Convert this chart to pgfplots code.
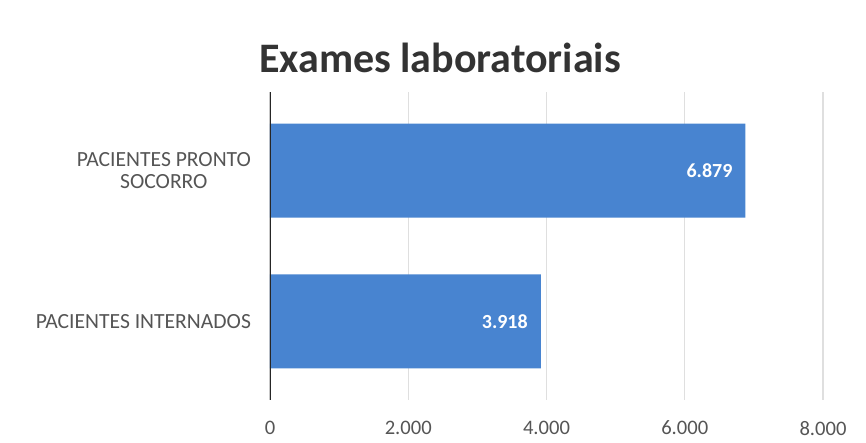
\documentclass[border=0pt]{standalone}
\usepackage{pgfplots}
\pgfplotsset{compat=1.18}
\usepackage{fontspec}
\setmainfont{Carlito}
\definecolor{barblue}{RGB}{72,132,208}
\definecolor{txtgray}{RGB}{85,85,85}
\begin{document}
\begin{tikzpicture}
\path[use as bounding box] (-135pt,-21.5pt) rectangle (298pt,200pt);
\begin{axis}[
    at={(0,0)}, anchor=south west,
    xbar,
    scale only axis,
    width=276.5pt, height=154pt,
    xmin=0, xmax=8000,
    ymin=-0.52, ymax=1.52,
    xtick={0,2000,4000,6000,8000},
    ytick={0,1},
    yticklabels={PACIENTES INTERNADOS, {PACIENTES PRONTO\\SOCORRO}},
    yticklabel style={align=center, font=\fontsize{10.8}{11}\selectfont, text=txtgray, xshift=-6pt},
    xticklabel style={font=\fontsize{10.3}{12}\selectfont, text=txtgray, yshift=-7pt},
    /pgf/number format/.cd, 1000 sep={.}, assume math mode=true, /pgfplots/.cd,
    major tick length=0pt,
    axis line style={draw=none},
    xmajorgrids,
    grid style={gray!25, line width=0.6pt},
    bar width=47pt,
    nodes near coords,
    every node near coord/.append style={anchor=east, xshift=-3pt, text=white, font=\fontsize{10}{12}\selectfont\bfseries},
]
\addplot[fill=barblue, draw=none] coordinates {
    (3918,0)
    (6879,1)
};
\draw[black!85, line width=1.3pt] (axis cs:0,-0.52) -- (axis cs:0,1.52);
\end{axis}
\node[font=\fontsize{21}{24}\selectfont\bfseries, text=black!80] at (85pt,171pt) {Exames laboratoriais};
\end{tikzpicture}
\end{document}
